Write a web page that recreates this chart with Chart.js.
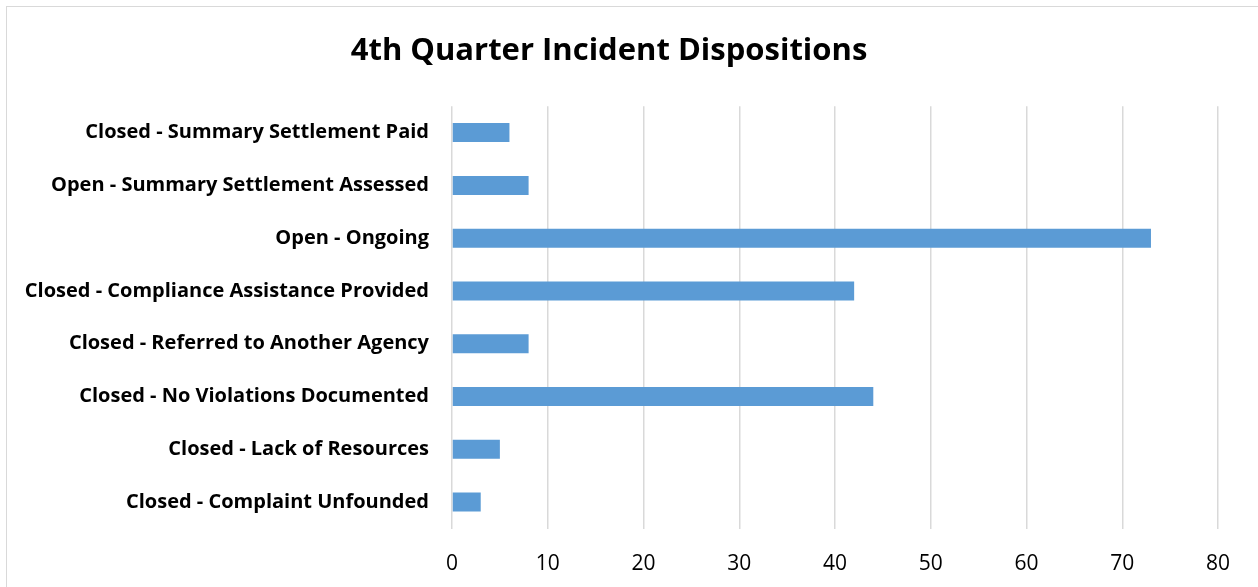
<!DOCTYPE html>
<html>
<head>
<meta charset="utf-8">
<script src="https://cdn.jsdelivr.net/npm/chart.js@4.4.1/dist/chart.umd.min.js"></script>
<style>
  html, body { margin: 0; padding: 0; background: #fff; overflow: hidden; }
  #wrap { position: absolute; left: 0; top: 0; width: 1258px; height: 587px; }
  #frame { position: absolute; left: 6px; top: 6px; width: 1300px; height: 700px; border: 1.5px solid #d9d9d9; box-sizing: border-box; }
  canvas { position: absolute; left: 0; top: 0; }
</style>
</head>
<body>
<div id="wrap">
  <div id="frame"></div>
  <canvas id="c" width="1258" height="587"></canvas>
</div>
<script>
const chartTitle = "4th Quarter Incident Dispositions";
const categories = [
  "Closed - Summary Settlement Paid",
  "Open - Summary Settlement Assessed",
  "Open - Ongoing",
  "Closed - Compliance Assistance Provided",
  "Closed - Referred to Another Agency",
  "Closed - No Violations Documented",
  "Closed - Lack of Resources",
  "Closed - Complaint Unfounded"
];
const values = [6, 8, 73, 42, 8, 44, 5, 3];
const xMin = 0, xMax = 80, xStep = 10;

const FONT = "'Open Sans', 'Liberation Sans', sans-serif";

new Chart(document.getElementById('c'), {
  type: 'bar',
  data: {
    labels: categories,
    datasets: [{
      data: values,
      backgroundColor: '#5b9bd5',
      borderWidth: 0,
      categoryPercentage: 1.0,
      barPercentage: 0.36
    }]
  },
  options: {
    indexAxis: 'y',
    responsive: false,
    animation: false,
    devicePixelRatio: 1,
    layout: { padding: { left: 0, right: 40, top: 0, bottom: 0 } },
    plugins: {
      legend: { display: false },
      tooltip: { enabled: false },
      title: {
        display: true,
        text: chartTitle,
        color: '#000',
        font: { family: FONT, size: 31, weight: 'bold', lineHeight: 1.2 },
        padding: { top: 33, bottom: 36 }
      }
    },
    scales: {
      x: {
        min: xMin, max: xMax,
        ticks: { stepSize: xStep, color: '#000', padding: 23, font: { family: FONT, size: 21 } },
        grid: { color: '#d9d9d9', lineWidth: 1.5, drawTicks: false },
        border: { display: false },
        afterFit(scale) { scale.height = 58.5; }
      },
      y: {
        ticks: { color: '#000', padding: 23, font: { family: FONT, size: 20, weight: 'bold' } },
        grid: { display: false, drawTicks: false },
        border: { display: false },
        afterFit(scale) { scale.width = 452; }
      }
    }
  }
});
</script>
</body>
</html>
